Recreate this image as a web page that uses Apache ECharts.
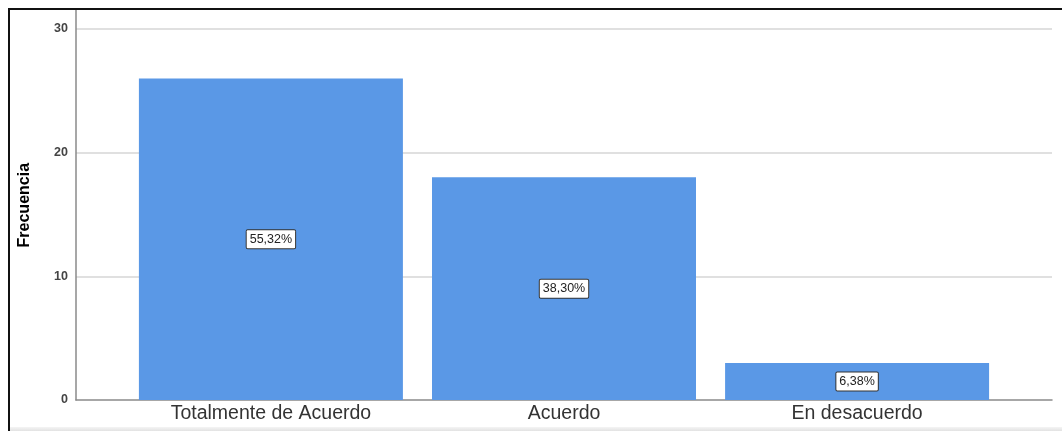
<!DOCTYPE html>
<html>
<head>
<meta charset="utf-8">
<script src="https://cdn.jsdelivr.net/npm/echarts@6/dist/echarts.min.js"></script>
<style>
  html, body { margin: 0; padding: 0; background: #fff; }
  #wrap { position: relative; width: 1062px; height: 431px; overflow: hidden; }
  #chart { position: absolute; left: 0; top: 0; width: 1062px; height: 431px; }
  #frame { position: absolute; left: 8px; top: 8px; width: 1062px; height: 440px;
           border-left: 2px solid #111; border-top: 2px solid #111; pointer-events: none; }
  #strip { position: absolute; left: 10px; bottom: 0; width: 1052px; height: 4px;
           background: linear-gradient(#f4f4f4, #e2e2e2); pointer-events: none; }
</style>
</head>
<body>
<div id="wrap">
  <div id="chart"></div>
  <div id="frame"></div>
  <div id="strip"></div>
</div>
<script>
var categories = ['Totalmente de Acuerdo', 'Acuerdo', 'En desacuerdo'];
var frequencies = [26, 18, 3];
var yTicks = [0, 10, 20, 30];
var yGridLines = [10, 20, 30];

var total = frequencies.reduce(function (a, b) { return a + b; }, 0);
var barData = frequencies.map(function (v, i) { return [i, v]; });

var chart = echarts.init(document.getElementById('chart'), null, { renderer: 'canvas' });
chart.setOption({
  animation: false,
  backgroundColor: '#fff',
  grid: { left: 76, right: 10, top: 10.4, bottom: 31, containLabel: false },
  xAxis: {
    type: 'value',
    min: -0.665,
    max: 2.665,
    splitLine: { show: false },
    axisTick: { show: false },
    axisLine: { show: true, onZero: false, lineStyle: { color: '#8a8a8a', width: 1.5 } },
    axisLabel: {
      customValues: [0, 1, 2],
      formatter: function (v) { return categories[Math.round(v)] || ''; },
      fontFamily: 'Liberation Sans, Arial, sans-serif',
      fontSize: 19.5,
      color: '#333',
      margin: 4
    }
  },
  yAxis: {
    type: 'value',
    min: 0,
    max: 31.5,
    interval: 10,
    name: 'Frecuencia',
    nameLocation: 'middle',
    nameGap: 43,
    nameTextStyle: {
      fontFamily: 'Liberation Sans, Arial, sans-serif',
      fontSize: 16,
      fontWeight: 'bold',
      color: '#000'
    },
    splitLine: { show: false },
    axisTick: { show: false },
    axisLine: { show: true, onZero: false, lineStyle: { color: '#8a8a8a', width: 1.5 } },
    axisLabel: {
      showMaxLabel: false,
      formatter: function (v) { return yTicks.indexOf(v) >= 0 ? String(v) : ''; },
      fontFamily: 'Liberation Sans, Arial, sans-serif',
      fontSize: 12.5,
      fontWeight: 'bold',
      color: '#444',
      margin: 8
    }
  },
  series: [{
    type: 'bar',
    data: barData,
    barWidth: 264,
    itemStyle: { color: '#5A98E6' },
    label: {
      show: true,
      position: 'inside',
      formatter: function (p) {
        return (p.value[1] / total * 100).toFixed(2).replace('.', ',') + '%';
      },
      fontFamily: 'Liberation Sans, Arial, sans-serif',
      fontSize: 12.5,
      color: '#222',
      backgroundColor: '#fff',
      borderColor: '#333',
      borderWidth: 1,
      borderRadius: 1,
      padding: [3, 3, 2, 3]
    },
    markLine: {
      silent: true,
      symbol: 'none',
      label: { show: false },
      lineStyle: { color: '#d6d6d6', width: 1.5, type: 'solid' },
      data: yGridLines.map(function (v) { return { yAxis: v }; }),
      z: -1
    },
    z: 2
  }]
});
</script>
</body>
</html>
